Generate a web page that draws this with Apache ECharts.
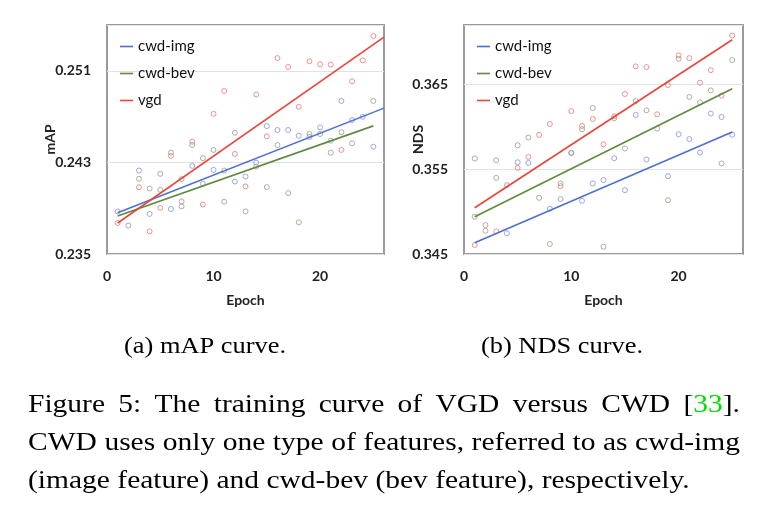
<!DOCTYPE html>
<html><head><meta charset="utf-8">
<script src="https://cdn.jsdelivr.net/npm/echarts@6/dist/echarts.min.js"></script>
<style>html,body{margin:0;padding:0;background:#fff}#c{width:768px;height:522px}</style>
</head><body><div id="c"></div>
<script>
// ---------- data ----------
const epochs = [1,2,3,4,5,6,7,8,9,10,11,12,13,14,15,16,17,18,19,20,21,22,23,24,25];
const seriesNames = ['cwd-img','cwd-bev','vgd'];

// mAP scatter values (per epoch)
const mapImg = [0.23872,0.23748,0.24229,0.23850,0.24200,0.23893,0.23916,0.24270,0.24113,0.24235,0.23957,0.24133,0.24177,0.24298,0.24617,0.24583,0.24583,0.24533,0.24522,0.24606,0.24490,0.24837,0.24670,0.24698,0.24437];
const mapBev = [null,null,0.24157,0.24072,0.24061,0.24385,0.24154,0.24452,0.24337,0.24409,0.24229,0.24559,0.23872,0.24263,0.24084,0.24452,0.24032,0.23777,0.24548,0.24548,0.24385,0.24563,0.24467,null,0.24837];
const mapVgd = [0.23771,null,0.24083,0.23698,0.23903,0.24357,0.23959,0.24481,0.23933,0.24724,0.24924,0.24374,0.24090,0.24893,0.24528,0.25211,0.25133,0.24785,0.25183,0.25157,0.25154,0.24409,0.25009,0.25191,0.25403];
// mAP trend lines (endpoints)
const mapTrendImg = [[1,0.23861],[26,0.24774]];
const mapTrendBev = [[1,0.23832],[25,0.24619]];
const mapTrendVgd = [[1,0.23771],[26,0.25394]];

// NDS scatter values (per epoch)
const ndsImg = [0.35626,null,0.35606,0.34744,0.35582,0.35574,null,0.35033,0.35147,0.35692,0.35127,0.35332,0.35371,0.35629,0.35253,0.36139,0.35614,null,0.35418,0.35912,0.35855,0.35696,0.36155,0.36115,0.35907];
const ndsBev = [0.34939,0.34774,0.35398,null,0.35782,0.35873,0.35162,0.34618,0.35332,0.35692,0.35971,0.36221,0.34586,0.36100,0.35744,0.36304,0.36194,0.35979,0.35135,0.36802,0.36351,0.36288,0.36429,0.35567,0.36786];
const ndsVgd = [0.34606,0.34841,0.34767,0.35312,0.35515,0.35645,0.35904,0.36033,0.35300,0.36186,0.36009,0.36092,0.35794,0.36124,0.36386,0.36712,0.36704,0.36147,0.36492,0.36841,0.36809,0.36520,0.36668,0.36367,0.37076];
// NDS trend lines
const ndsTrendImg = [[1,0.34633],[25,0.35939]];
const ndsTrendBev = [[1,0.34939],[25,0.36449]];
const ndsTrendVgd = [[1,0.35045],[25,0.37026]];

// axis ticks
const xTicks = {min:0, max:26, interval:10};
const mapTicks = {min:0.235, max:0.255, interval:0.008};
const ndsTicks = {min:0.345, max:0.372, interval:0.01};

// captions
const subCaptionA = '(a) mAP curve.';
const subCaptionB = '(b) NDS curve.';
const captionLines = [
  [['Figure'],['5:'],['The'],['training'],['curve'],['of'],['VGD'],['versus'],['CWD'],[['[','#000'],['33','#00dd00'],['].','#000']]],
  [['CWD'],['uses'],['only'],['one'],['type'],['of'],['features,'],['referred'],['to'],['as'],['cwd-img']],
  [['(image'],['feature)'],['and'],['cwd-bev'],['(bev'],['feature),'],['respectively.']]
];

// ---------- styles ----------
const lineColors = ['#4d6fd0','#5f8a3e','#e8463b'];
const dotColors = ['#8493d8','#95a083','#e57a78'];
const sans = 'Lato';
const serif = '"Liberation Serif"';

const toPts = vals => epochs.map((e,i)=>[e, vals[i]]).filter(p=>p[1]!==null);

function makeAxes(gi, yT, yName, nameGap){
  const lbl = {fontFamily:sans, fontSize:14, fontWeight:'bold', color:'#222'};
  return {
    x: {gridIndex:gi, type:'value', min:xTicks.min, max:xTicks.max, interval:xTicks.interval,
        axisLine:{show:false}, axisTick:{show:false}, splitLine:{show:false},
        axisLabel:Object.assign({margin:15, showMaxLabel:false}, lbl),
        name:'Epoch', nameLocation:'middle', nameGap:39, nameTextStyle:lbl, nameMoveOverlap:false},
    y: {gridIndex:gi, type:'value', min:yT.min, max:yT.max, interval:yT.interval,
        axisLine:{show:false}, axisTick:{show:false},
        splitLine:{show:true, lineStyle:{color:'#e2e2e2', width:1}},
        axisLabel:Object.assign({margin:16, showMaxLabel:false, formatter:v=>v.toFixed(3)}, lbl),
        name:yName, nameLocation:'middle', nameGap:nameGap, nameRotate:90, nameTextStyle:lbl,
        nameMoveOverlap:false}
  };
}
const axA = makeAxes(0, mapTicks, 'mAP', 50);
const axB = makeAxes(1, ndsTicks, 'NDS', 39);

function scatter(gi, idx, vals){
  return {type:'scatter', name:seriesNames[idx]+' points', xAxisIndex:gi, yAxisIndex:gi,
    data:toPts(vals), symbol:'circle', symbolSize:5, z:2,
    itemStyle:{color:'rgba(255,255,255,0)', borderColor:dotColors[idx], borderWidth:1}};
}
function trend(gi, idx, pts){
  return {type:'line', name:seriesNames[idx], xAxisIndex:gi, yAxisIndex:gi, data:pts,
    showSymbol:false, symbol:'none', z:3, silent:true,
    lineStyle:{color:lineColors[idx], width:1.6}, itemStyle:{color:lineColors[idx]}};
}
function legend(left){
  return {data:seriesNames, orient:'vertical', left:left, top:39, padding:0, itemGap:12,
    icon:'rect', itemWidth:13, itemHeight:1.6,
    textStyle:{fontFamily:sans, fontSize:15, color:'#111'}};
}

// ---------- caption graphics ----------
const mctx = document.createElement('canvas').getContext('2d');
function measure(t, size){ mctx.font = size+'px '+serif; return mctx.measureText(t).width; }
const capSize = 26, capScale = 1.135, capX0 = 28, capX1 = 740;
const capY = [405, 443, 481];
const graphics = [];
captionLines.forEach((words, li)=>{
  const segs = words.map(w => Array.isArray(w[0]) ? w : [[w[0], '#000']]);
  const widths = segs.map(s => s.reduce((a,p)=>a+measure(p[0],capSize)*capScale,0));
  const total = widths.reduce((a,b)=>a+b,0);
  const justify = li < captionLines.length-1;
  const gap = justify ? (capX1-capX0-total)/(segs.length-1) : measure(' ',capSize)*capScale;
  let x = capX0;
  segs.forEach((s,wi)=>{
    let sx = x;
    s.forEach(p=>{
      graphics.push({type:'text', x:sx, y:capY[li], scaleX:capScale, silent:true,
        style:{text:p[0], font:capSize+'px '+serif, fill:p[1], align:'left', verticalAlign:'middle',
               textAlign:'left', textVerticalAlign:'middle'}});
      sx += measure(p[0],capSize)*capScale;
    });
    x += widths[wi] + gap;
  });
});
const subSize = 24, subScale = 1.1;
[[subCaptionA,205],[subCaptionB,562]].forEach(([t,cx])=>{
  graphics.push({type:'text', x:cx, y:347, scaleX:subScale, silent:true,
    style:{text:t, font:subSize+'px '+serif, fill:'#000', align:'center', verticalAlign:'middle',
           textAlign:'center', textVerticalAlign:'middle'}});
});

// ---------- chart ----------
const chart = echarts.init(document.getElementById('c'), null, {renderer:'canvas'});
chart.setOption({
  animation:false,
  backgroundColor:'#fff',
  grid:[
    {left:107, top:25, width:277, height:229, show:true, borderColor:'#9a9a9a', borderWidth:2, backgroundColor:'transparent'},
    {left:464, top:25, width:279, height:229, show:true, borderColor:'#9a9a9a', borderWidth:2, backgroundColor:'transparent'}
  ],
  xAxis:[axA.x, axB.x],
  yAxis:[axA.y, axB.y],
  legend:[legend(120), legend(477)],
  series:[
    scatter(0,0,mapImg), scatter(0,1,mapBev), scatter(0,2,mapVgd),
    trend(0,0,mapTrendImg), trend(0,1,mapTrendBev), trend(0,2,mapTrendVgd),
    scatter(1,0,ndsImg), scatter(1,1,ndsBev), scatter(1,2,ndsVgd),
    trend(1,0,ndsTrendImg), trend(1,1,ndsTrendBev), trend(1,2,ndsTrendVgd)
  ],
  graphic:{elements:graphics}
});
</script>
</body></html>
